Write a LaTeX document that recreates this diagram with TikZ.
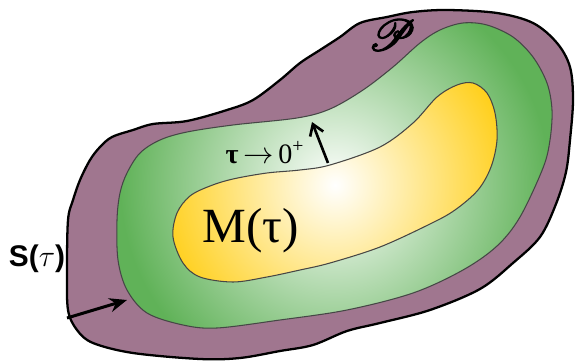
\documentclass[tikz,border=0pt]{standalone}
\usepackage{fontspec}
\usepackage{mathrsfs}
\newfontfamily\timesgr{Liberation Serif}
\newfontfamily\arialgr{Liberation Sans}
\usetikzlibrary{arrows.meta}
\definecolor{purpleP}{RGB}{160,118,143}
\definecolor{greenS}{RGB}{96,178,88}
\definecolor{yellowM}{RGB}{255,208,30}
\definecolor{edgegray}{RGB}{70,70,70}
\newcommand\heavyP[1]{\special{pdf:literal direct 2 Tr 0.7 w}#1\special{pdf:literal direct 0 Tr}}

\begin{document}
\begin{tikzpicture}[x=0.02cm,y=-0.02cm,>=Stealth,
  outline/.style={draw=black,line width=1.3pt},
  level/.style={draw=edgegray,line width=0.6pt},
  lbl/.style={inner sep=0pt}]
\useasboundingbox (0,0) rectangle (575,361);
\def\pathP{plot[smooth cycle,tension=0.55] coordinates {(73,200) (80,180) (90,160) (100,147) (112,137) (133,130) (153,124) (187,121) (227,110) (253,100) (280,80) (300,63) (320,50) (340,37) (360,23) (387,17) (413,12) (447,10) (497,13) (533,23) (557,43) (570,67) (573,100) (570,140) (566,172) (556,204) (540,237) (513,263) (480,289) (430,310) (380,323) (347,331) (313,345) (280,351) (240,358) (200,359) (133,353) (93,343) (77,330) (68,310) (67,270) (68,220)}}
\def\pathS{plot[smooth cycle,tension=0.55] coordinates {(120,193) (127,173) (140,153) (160,140) (187,132) (233,125) (297,118) (330,109) (363,90) (393,67) (420,43) (440,30) (463,23) (487,25) (513,37) (533,57) (547,83) (552,110) (550,140) (543,168) (520,217) (497,246) (463,270) (413,293) (347,310) (280,320) (217,328) (183,325) (147,313) (127,290) (118,260) (117,220)}}
\def\pathM{plot[smooth cycle,tension=0.55] coordinates {(177,213) (190,196) (210,186) (233,179) (267,173) (300,170) (330,165) (380,147) (413,123) (437,97) (457,85) (473,83) (487,93) (495,113) (497,140) (491,167) (478,190) (455,210) (430,224) (380,247) (330,263) (300,270) (267,277) (233,282) (200,277) (183,263) (173,237)}}
\fill[purpleP] \pathP;
\begin{scope}
\clip \pathS;
\fill[greenS] (0,0) rectangle (575,361);
\shade[inner color=white,outer color=greenS] (335,185) circle (215);
\end{scope}
\draw[level] \pathS;
\begin{scope}
\clip \pathM;
\fill[yellowM] (0,0) rectangle (575,361);
\shade[inner color=white,outer color=yellowM] (335,185) circle (175);
\end{scope}
\draw[level] \pathM;
\draw[outline] \pathP;
\node[lbl,font=\fontsize{32}{34}\selectfont] (P) at (392,35) {\heavyP{$\mathscr{P}$}};
\node[lbl,font=\timesgr\fontsize{28}{30}\selectfont] (M) at (251,231) {M(τ)};
\node[lbl,font=\fontsize{16}{18}\selectfont] (lim) at (265,153) {{\timesgr\bfseries τ}\,$\rightarrow$\,{\timesgr 0\textsuperscript{+}}};
\node[lbl,font=\arialgr\fontsize{17}{19}\selectfont] (S) at (37,259) {{\bfseries S(}$\tau${\bfseries )}};
\coordinate (ringtail) at (328,163);
\coordinate (ringtip) at (312,122);
\coordinate (Stail) at (67,318);
\coordinate (Stip) at (127,300);
\draw[line width=1.5pt,-{Straight Barb[length=6pt,width=8pt]}] (ringtail) -- (ringtip);
\draw[line width=1.7pt,-{Stealth[length=10pt,width=8pt]}] (Stail) -- (Stip);
\end{tikzpicture}
\end{document}
